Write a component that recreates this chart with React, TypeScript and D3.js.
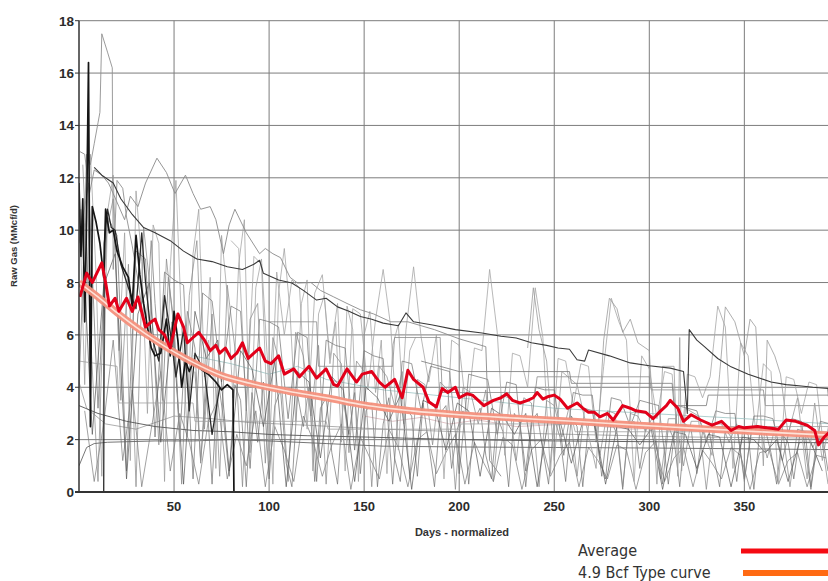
import React, { useEffect, useRef } from "react";
import * as d3 from "d3";

// ---- data (MMcf/d vs normalized days) ----
const xTicks = [50, 100, 150, 200, 250, 300, 350, 400];
const yTicks = [0, 2, 4, 6, 8, 10, 12, 14, 16, 18];

const averageCurve = [
  [0.5, 7.45], [4, 8.36], [7, 8.0], [9, 8.3], [12, 8.75], [14, 8.0], [16, 7.1], [19, 7.4], [21, 6.9], [25, 7.4],
  [28, 6.9], [31, 7.45], [35, 6.3], [38, 6.5], [40, 6.6], [42, 6.2], [45, 6.0], [48, 5.5], [52, 6.8], [55, 6.3],
  [57, 5.7], [60, 5.9], [63, 6.1], [66, 5.8], [69, 5.4], [72, 5.6], [74, 5.3], [77, 5.5], [80, 5.1], [83, 5.3],
  [86, 5.7], [89, 5.1], [92, 5.3], [95, 5.5], [98, 5.0], [101, 4.9], [105, 5.2], [108, 4.5], [113, 4.7], [116, 4.4],
  [121, 4.8], [125, 4.35], [130, 4.7], [134, 4.1], [136, 4.05], [141, 4.7], [146, 4.2], [149, 4.5], [154, 4.6], [158, 4.2],
  [161, 4.0], [166, 4.3], [170, 3.6], [173, 4.65], [176, 4.3], [181, 4.0], [184, 3.45], [188, 3.25], [191, 3.95], [194, 3.8],
  [198, 4.0], [200, 3.6], [204, 3.75], [207, 3.7], [210, 3.5], [213, 3.3], [218, 3.5], [222, 3.6], [225, 3.75], [228, 3.5],
  [232, 3.4], [236, 3.5], [239, 3.6], [241, 3.8], [244, 3.55], [247, 3.65], [250, 3.7], [253, 3.55], [257, 3.2], [262, 3.4],
  [265, 3.2], [268, 3.05], [271, 3.05], [274, 2.87], [278, 3.0], [281, 2.75], [286, 3.3], [290, 3.2], [293, 3.1], [298, 3.05],
  [302, 2.8], [306, 3.1], [309, 3.3], [311, 3.5], [315, 3.2], [318, 2.7], [322, 2.95], [327, 2.75], [333, 2.55], [338, 2.7],
  [343, 2.35], [347, 2.5], [350, 2.45], [357, 2.5], [362, 2.45], [368, 2.4], [372, 2.75], [377, 2.7], [383, 2.55], [387, 2.35],
  [389, 1.8], [392, 2.1], [395, 2.3],
];

const typeCurve = [
  [0, 8.0], [10, 7.45], [20, 6.85], [30, 6.3], [40, 5.8], [50, 5.35], [60, 4.95], [75, 4.45], [90, 4.15], [110, 3.85],
  [130, 3.6], [150, 3.32], [175, 3.1], [200, 2.95], [230, 2.82], [260, 2.7], [290, 2.57], [320, 2.45], [350, 2.33], [380, 2.22], [396, 2.17],
];

// individual wells, traced point by point
const wellUpperDark = [
  [8, 12.4], [12, 12.1], [18, 11.8], [22, 11.2], [28, 10.6], [34, 10.1], [40, 9.9], [48, 9.6], [55, 9.2], [62, 8.9],
  [70, 8.8], [78, 8.6], [86, 8.5], [92, 8.7], [95, 8.85], [97, 8.35], [105, 8.1], [112, 7.98], [118, 7.7], [125, 7.33],
  [130, 7.4], [136, 7.07], [142, 6.9], [148, 6.7], [154, 6.6], [160, 6.45], [168, 6.35], [172, 6.84], [176, 6.5], [186, 6.38],
  [198, 6.2], [212, 6.07], [222, 5.95], [230, 5.88], [238, 5.7], [246, 5.6], [252, 5.5], [258, 5.45], [262, 5.05], [266, 5.0],
  [268, 5.42], [279, 5.2], [290, 4.93], [300, 4.82], [311, 4.73], [318, 4.6], [320, 3.0], [321, 6.2], [325, 5.8], [329, 5.55],
  [336, 5.1], [343, 4.78], [352, 4.5], [364, 4.2], [372, 4.1], [380, 4.05], [386, 4.0], [394, 3.95], [395, 2.8],
];

const wellUpperLight = [
  [0.5, 13.0], [3, 12.9], [5.5, 11.4], [8, 12.3], [12, 12.1], [15.5, 11.8], [18, 11.4], [21, 10.9], [24, 10.4], [27, 11.3],
  [31, 10.9], [35, 11.8], [41, 12.75], [46, 12.2], [50.5, 11.4], [56, 12.1], [60, 11.4], [64, 10.8], [69, 10.9], [72, 10.4],
  [76, 9.1], [79, 10.2], [82, 10.8], [88, 9.9], [95, 9.1], [98, 9.3], [102, 9.1], [106, 8.95], [111, 8.2], [115, 7.98],
  [122, 8.0], [127, 7.7], [134, 7.45], [141, 7.2], [148, 6.96], [155, 6.8], [164, 6.5], [173, 6.5], [187, 6.2], [200, 5.85],
  [214, 5.55], [216, 1.2], [222, 0.6],
];

const wellBlack = [
  [0, 11.8], [1, 9.0], [2, 11.2], [3, 6.5], [4, 10.5], [5, 16.4], [6, 2.5], [7, 10.9], [9, 10.3], [11, 9.5],
  [13, 8.2], [14, 10.8], [16, 9.9], [18, 10.0], [20, 9.2], [23, 8.6], [26, 8.2], [28, 7.1], [30, 9.8], [32, 8.3],
  [34, 7.2], [36, 6.3], [38, 5.5], [40, 5.2], [43, 5.3], [46, 6.6], [48, 5.2], [50, 6.9], [52, 5.8], [54, 4.0],
  [56, 5.0], [58, 4.6], [60, 4.95], [64, 4.7], [68, 4.5], [72, 4.2], [75, 3.9], [78, 4.1], [81, 3.9], [81.5, 0], [396, 0],
];

const wellLateStart = [
  [0, 0], [13, 0], [13.3, 9.5], [15, 10.8], [17, 10.1], [19, 10.0], [22, 8.7], [26, 7.8], [30, 7.0], [33, 9.9],
  [35, 8.0], [38, 6.0], [42, 5.0], [45, 7.5], [48, 6.1], [51, 4.4], [55, 6.2], [58, 3.1], [61, 5.3], [66, 4.6], [70, 2.2], [74, 4.0],
];

const wellTallSpike = [
  [0, 4.0], [2, 8.0], [4, 12.9], [6, 12.5], [8, 13.3], [10, 14.1], [11, 14.5], [12, 17.5], [15, 16.8], [17.5, 16.2],
  [18, 8.5], [20, 11.9], [23, 11.6], [25, 10.5], [28, 9.4], [31, 8.1], [35, 6.0], [38, 9.6], [40, 7.2], [44, 3.5],
  [47, 8.2], [50, 6.4], [53, 2.0], [57, 6.9], [61, 5.5], [64, 1.1], [68, 5.8],
];

const wellLow1 = [
  [0, 1.0], [4, 1.7], [8, 1.85], [15, 1.9], [40, 1.95], [60, 1.95], [80, 2.0], [100, 1.95], [130, 1.85], [160, 1.75],
  [200, 1.72], [250, 1.7], [300, 1.68], [350, 1.65], [396, 1.62],
];
const wellLow2 = [
  [0, 3.3], [10, 3.0], [25, 2.7], [40, 2.5], [60, 2.35], [80, 2.3], [100, 2.2], [120, 2.15], [150, 2.1], [200, 2.0],
  [250, 1.95], [300, 1.92], [350, 1.9], [396, 1.88],
];
const wellLow3 = [
  [0, 4.2], [4, 3.2], [14, 2.6], [30, 2.4], [50, 2.9], [70, 2.8], [90, 2.65], [120, 2.55], [160, 2.4], [200, 2.3],
  [260, 2.2], [320, 2.1], [396, 2.05],
];
const wellStepA = [
  [0, 5.0], [20, 4.8], [21, 3.4], [60, 3.4], [61, 2.7], [130, 2.7], [131, 2.4], [200, 2.4], [201, 2.6], [260, 2.6],
  [261, 2.3], [330, 2.3], [331, 2.5], [396, 2.5],
];
const wellStepB = [
  [100, 6.5], [125, 6.5], [126, 4.8], [165, 4.8], [166, 5.9], [190, 5.9], [191, 3.8], [240, 3.8], [241, 4.4], [300, 4.4],
  [301, 3.9], [360, 3.9], [361, 3.3], [396, 3.3],
];
const wellStepC = [
  [180, 5.0], [200, 4.6], [258, 4.6], [259, 4.15], [312, 4.15], [313, 3.3], [330, 3.3], [331, 3.7], [396, 3.7],
];
const wellTeal = [
  [60, 5.2], [80, 4.9], [100, 4.5], [115, 4.8], [130, 4.3], [160, 3.9], [200, 3.6], [250, 3.2], [300, 3.0], [350, 2.8], [396, 2.6],
];
const wellPink = [
  [150, 2.9], [165, 2.7], [180, 2.85], [195, 2.6], [210, 2.75], [230, 2.5], [260, 2.6], [290, 2.4], [330, 2.5], [396, 2.3],
];
const wellLateSpikes = [
  [236, 5.5], [239, 7.8], [242, 6.2], [246, 5.0], [250, 1.2], [254, 4.6], [262, 4.1], [272, 0.9], [276, 5.8], [279, 7.4],
  [283, 7.0], [286, 6.1], [290, 6.6], [294, 5.7], [300, 5.4], [304, 0.3], [307, 4.8], [313, 4.8], [315, 0.6], [316, 5.9],
  [317, 0.8], [319, 3.2], [326, 2.9], [333, 1.4], [337, 4.5], [340, 7.07], [345, 6.5], [350, 5.2], [353, 6.6], [356, 6.3],
  [360, 1.0], [362, 5.8], [366, 5.2], [369, 4.5], [373, 2.2], [378, 3.6], [383, 0.5], [387, 3.4], [391, 1.2], [395, 2.8],
];

// noisy wells, one reading every `step` days from `start`
const noisyA = { start: 0, step: 5, values: [
  9.5, 11.8, 3.2, 10.5, 9.8, 0.8, 9.2, 8.9, 2.1, 8.4, 8.1, 7.9, 0.5, 7.6, 7.3, 4.2, 7.1, 6.9, 0.9, 6.6,
  6.5, 6.3, 2.8, 6.1, 5.9, 0.4, 5.8, 5.6, 5.5, 1.6, 5.4, 5.2, 5.1, 0.3, 5.0, 4.9, 3.1, 4.8, 4.7, 4.6,
  0.7, 4.5, 4.4, 4.3, 2.2, 4.2, 4.1, 0.2, 4.0, 3.9, 3.9, 1.4, 3.8, 3.7, 3.7, 0.6, 3.6, 3.5, 2.5, 3.5,
  3.4, 3.3, 0.3, 3.3, 3.2, 3.1, 1.9, 3.1, 3.0, 3.0, 0.5, 2.9, 2.9, 2.8, 1.2, 2.8, 2.7, 0.1, 2.7, 2.6,
] };
const noisyB = { start: 2, step: 4, values: [
  12.5, 6.1, 0.4, 9.8, 11.2, 3.5, 8.7, 0.2, 10.1, 7.4, 1.8, 8.9, 6.2, 0.3, 7.5, 9.6, 2.4, 6.8, 0.6, 7.9,
  5.5, 0.2, 6.6, 7.2, 1.1, 5.9, 4.8, 0.4, 6.1, 5.2, 2.9, 5.6, 0.3, 5.3, 4.9, 1.5, 5.0, 4.6, 0.2, 4.8,
  4.4, 3.3, 4.6, 0.5, 4.3, 4.1, 1.8, 4.2, 3.9, 0.1, 4.0, 3.8, 2.6, 3.9, 0.4, 3.7, 3.6, 1.2, 3.6, 3.4,
  0.2, 3.5, 3.3, 2.1, 3.3, 0.6, 3.2, 3.1, 1.4, 3.1, 3.0, 0.2, 3.0, 2.9, 2.3, 2.9, 0.5, 2.8, 2.8, 1.0,
  2.7, 2.7, 0.1, 2.6, 2.6, 1.9, 2.6, 0.4, 2.5, 2.5, 1.3, 2.4, 2.4, 0.2, 2.4, 2.3, 1.7, 2.3, 0.3,
] };
const noisyC = { start: 1, step: 6, values: [
  10.8, 2.2, 7.9, 9.1, 0.5, 6.8, 8.0, 1.9, 6.5, 0.3, 6.9, 5.1, 5.8, 0.8, 5.4, 4.7, 2.5, 5.0, 0.2, 4.6,
  4.2, 1.3, 4.4, 3.9, 0.4, 4.0, 3.6, 2.7, 3.7, 0.1, 3.5, 3.3, 1.6, 3.4, 3.1, 0.6, 3.2, 2.9, 2.2, 3.0,
  0.2, 2.8, 2.7, 1.1, 2.7, 2.6, 0.3, 2.5, 2.4, 1.8, 2.4, 0.1, 2.3, 2.2, 0.9, 2.2, 2.1, 0.2, 2.1, 2.0,
  1.5, 2.0, 0.4, 1.9, 1.9, 0.8,
] };
const noisyD = { start: 0, step: 3, values: [
  11.6, 4.1, 12.9, 8.3, 0.6, 10.7, 12.1, 5.4, 9.9, 1.2, 11.5, 8.8, 3.0, 10.2, 9.5, 0.4, 8.6, 11.9, 6.3, 2.1,
  9.1, 10.8, 4.4, 8.2, 0.9, 9.8, 7.5, 3.6, 8.7, 10.4, 1.5, 7.8, 8.9, 5.2, 0.3, 7.6, 9.3, 6.9, 2.7, 7.2,
  8.1, 0.8, 6.8, 7.5, 4.9, 6.5, 1.9, 7.1, 6.2, 0.4, 6.0, 6.9, 3.8, 5.8, 0.7, 5.6, 6.4, 2.6, 5.4, 5.9,
] };
const noisyE = { start: 80, step: 4, values: [
  9.6, 9.3, 3.1, 9.0, 8.7, 1.2, 8.4, 6.0, 8.1, 7.8, 2.4, 7.6, 8.3, 5.1, 7.2, 0.8, 7.0, 6.8, 3.9, 6.6,
  8.5, 6.3, 1.6, 6.2, 8.6, 5.9, 4.2, 6.0, 0.5, 5.8, 5.6, 2.9, 5.5, 5.4, 8.5, 6.1, 1.4, 5.3, 5.2, 4.0,
  7.8, 5.9, 0.7, 5.1, 5.0, 3.3, 4.9, 4.8, 1.9, 4.8, 7.4, 6.5, 5.8, 0.4, 5.2, 4.7, 2.8, 4.6, 4.5, 1.1,
  4.5, 4.4, 3.6, 4.4, 7.1, 6.3, 0.9, 5.7, 5.2, 2.3, 4.9, 4.6, 0.3, 4.4, 4.3, 3.0, 4.2, 4.1, 1.5,
] };
const noisyF = { start: 3, step: 5, values: [
  3.1, 0.4, 2.6, 5.8, 1.2, 3.9, 0.2, 2.4, 4.6, 0.8, 3.0, 1.9, 0.3, 2.7, 3.5, 0.5, 2.2, 1.0, 3.1, 0.2,
  2.5, 1.6, 0.4, 2.9, 2.0, 0.6, 1.8, 2.6, 0.1, 2.1, 1.3, 0.5, 2.4, 1.7, 0.2, 2.0, 2.3, 0.7, 1.5, 2.2,
  0.3, 1.9, 1.1, 0.4, 2.1, 1.8, 0.1, 1.6, 2.0, 0.6, 1.4, 1.9, 0.2, 1.7, 1.2, 0.5, 1.8, 1.6, 0.1, 1.5,
  1.9, 0.4, 1.3, 1.7, 0.2, 1.6, 1.1, 0.5, 1.7, 1.4, 0.1, 1.5, 1.6, 0.3, 1.2, 1.5, 0.2, 1.4, 1.3,
] };
const noisyG = { start: 61, step: 3, values: [
  4.6, 1.2, 3.9, 0.3, 4.4, 2.8, 0.6, 4.1, 3.5, 0.2, 3.8, 1.9, 4.2, 0.5, 3.3, 3.9, 1.1, 0.2, 3.7, 2.5,
  4.0, 0.4, 3.2, 3.6, 1.5, 0.3, 3.5, 2.2, 3.8, 0.7, 3.1, 3.4, 0.2, 2.6, 3.6, 1.3, 0.4, 3.2, 2.9, 0.6,
  3.4, 1.8, 0.2, 3.0, 3.3, 0.9, 2.4, 3.1, 0.3, 2.8, 3.2, 1.4, 0.5, 2.9, 2.3, 0.2, 3.0, 2.6, 0.8, 2.7,
  3.0, 1.6, 0.3, 2.8, 2.1, 0.4, 2.9, 2.5, 0.2, 2.6, 2.8, 1.2, 0.5, 2.7, 2.2, 0.1, 2.5, 2.7, 0.9, 2.4,
  2.6, 1.7, 0.3, 2.5, 2.0, 0.2, 2.6, 2.4, 0.7, 2.3, 2.5, 1.3, 0.2, 2.4, 2.1, 0.4, 2.3, 2.2, 0.1, 2.2,
  2.4, 1.5, 0.3, 2.2, 1.9, 0.5, 2.1, 2.3, 0.2, 2.0, 2.2, 0.8,
] };

const legendItems = [
  { label: "Average", color: "#f50a12", width: 5 },
  { label: "4.9 Bcf Type curve", color: "#ff6a13", width: 6 },
];

const W = 828;
const H = 581;

const toPairs = (w) => w.values.map((v, i) => [w.start + i * w.step, v]);

const App = () => {
  const ref = useRef(null);

  useEffect(() => {
    const svg = d3.select(ref.current);
    svg.selectAll("*").remove();

    const x = d3.scaleLinear().domain([0, 394]).range([79, 828]);
    const y = d3.scaleLinear().domain([0, 18]).range([492, 20.7]);

    svg.append("rect").attr("width", W).attr("height", H).attr("fill", "#fff");

    svg.append("defs").append("clipPath").attr("id", "plotclip")
      .append("rect").attr("x", 79).attr("y", 18).attr("width", W - 79).attr("height", 476);

    // grid
    const grid = svg.append("g");
    grid.selectAll(".hg").data(yTicks.filter((d) => d > 0)).enter().append("line")
      .attr("x1", x(0)).attr("x2", W)
      .attr("y1", (d) => y(d)).attr("y2", (d) => y(d))
      .attr("stroke", "#7d7d7d").attr("stroke-width", 1);
    grid.selectAll(".vg").data(xTicks).enter().append("line")
      .attr("x1", (d) => x(d)).attr("x2", (d) => x(d))
      .attr("y1", y(18)).attr("y2", y(0))
      .attr("stroke", "#7d7d7d").attr("stroke-width", 1);

    const plot = svg.append("g").attr("clip-path", "url(#plotclip)");
    const line = d3.line().x((d) => x(d[0])).y((d) => y(d[1]));

    const wells = [
      { d: wellLow3, c: "#9a9a9a", w: 0.8 },
      { d: wellPink, c: "#d8b4b8", w: 0.8 },
      { d: wellTeal, c: "#9cc4c4", w: 0.8 },
      { d: toPairs(noisyF), c: "#7a7a7a", w: 0.7 },
      { d: toPairs(noisyG), c: "#6e6e6e", w: 0.7 },
      { d: toPairs(noisyD), c: "#9a9a9a", w: 0.7 },
      { d: toPairs(noisyE), c: "#a6a6a6", w: 0.8 },
      { d: toPairs(noisyA), c: "#6e6e6e", w: 0.7 },
      { d: toPairs(noisyB), c: "#858585", w: 0.7 },
      { d: toPairs(noisyC), c: "#555", w: 0.7 },
      { d: wellStepA, c: "#a0a0a0", w: 0.8 },
      { d: wellStepB, c: "#8a8a8a", w: 0.8 },
      { d: wellStepC, c: "#777", w: 0.8 },
      { d: wellLow1, c: "#666", w: 0.9 },
      { d: wellLow2, c: "#555", w: 0.9 },
      { d: wellLateSpikes, c: "#9a9a9a", w: 0.8 },
      { d: wellUpperLight, c: "#8a8a8a", w: 0.9 },
      { d: wellTallSpike, c: "#909090", w: 0.9 },
      { d: wellUpperDark, c: "#3a3a3a", w: 1.1 },
      { d: wellLateStart, c: "#2a2a2a", w: 1.3 },
      { d: wellBlack, c: "#151515", w: 1.7 },
    ];

    plot.selectAll(".well").data(wells).enter().append("path")
      .attr("d", (d) => line(d.d))
      .attr("fill", "none")
      .attr("stroke", (d) => d.c)
      .attr("stroke-width", (d) => d.w)
      .attr("stroke-linejoin", "round");

    // type curve: salmon band with pale core
    const smooth = d3.line().x((d) => x(d[0])).y((d) => y(d[1])).curve(d3.curveMonotoneX);
    plot.append("path").attr("d", smooth(typeCurve))
      .attr("fill", "none").attr("stroke", "#f4907c").attr("stroke-width", 7).attr("opacity", 0.95);
    plot.append("path").attr("d", smooth(typeCurve))
      .attr("fill", "none").attr("stroke", "#fde2d8").attr("stroke-width", 1.6);

    // average
    plot.append("path").attr("d", line(averageCurve))
      .attr("fill", "none").attr("stroke", "#e2001a").attr("stroke-width", 3)
      .attr("stroke-linejoin", "round");

    // axes
    svg.append("line").attr("x1", x(0)).attr("x2", x(0)).attr("y1", y(18)).attr("y2", y(0) + 1)
      .attr("stroke", "#333").attr("stroke-width", 1.5);
    svg.append("line").attr("x1", x(0) - 4).attr("x2", W).attr("y1", y(0)).attr("y2", y(0))
      .attr("stroke", "#333").attr("stroke-width", 2);
    svg.selectAll(".ytick").data(yTicks).enter().append("line")
      .attr("x1", x(0) - 4).attr("x2", x(0)).attr("y1", (d) => y(d)).attr("y2", (d) => y(d))
      .attr("stroke", "#333");

    const font = "'Liberation Sans', Arial, sans-serif";
    svg.selectAll(".ylab").data(yTicks).enter().append("text")
      .attr("x", 74).attr("y", (d) => y(d) + 5)
      .attr("text-anchor", "end")
      .style("font-family", font).style("font-weight", "bold").style("font-size", "13.5px")
      .attr("fill", "#2b2b2b")
      .text((d) => d);
    svg.selectAll(".xlab").data(xTicks.filter((d) => d < 394)).enter().append("text")
      .attr("x", (d) => x(d)).attr("y", 511)
      .attr("text-anchor", "middle")
      .style("font-family", font).style("font-weight", "bold").style("font-size", "13px")
      .attr("fill", "#2b2b2b")
      .text((d) => d);

    svg.append("text")
      .attr("transform", "translate(17,246) rotate(-90)")
      .attr("text-anchor", "middle")
      .style("font-family", font).style("font-weight", "bold").style("font-size", "9.5px")
      .attr("fill", "#333")
      .text("Raw Gas (MMcf/d)");
    svg.append("text")
      .attr("x", 462).attr("y", 536)
      .attr("text-anchor", "middle")
      .style("font-family", font).style("font-weight", "bold").style("font-size", "11px")
      .attr("fill", "#333")
      .text("Days - normalized");

    // legend
    const lg = svg.selectAll(".lg").data(legendItems).enter().append("g")
      .attr("transform", (d, i) => `translate(0, ${i * 22})`);
    lg.append("text")
      .attr("x", 578).attr("y", 556)
      .style("font-family", "'Liberation Sans Narrow', 'DejaVu Sans Condensed', sans-serif")
      .style("font-size", "16px")
      .attr("fill", "#333")
      .text((d) => d.label);
    lg.append("line")
      .attr("x1", (d, i) => 741 + i * 2).attr("x2", W)
      .attr("y1", 551).attr("y2", 551)
      .attr("stroke", (d) => d.color).attr("stroke-width", (d) => d.width);
  }, []);

  return (
    <svg ref={ref} width={W} height={H} style={{ position: "absolute", left: 0, top: 0 }} />
  );
};

export default App;
